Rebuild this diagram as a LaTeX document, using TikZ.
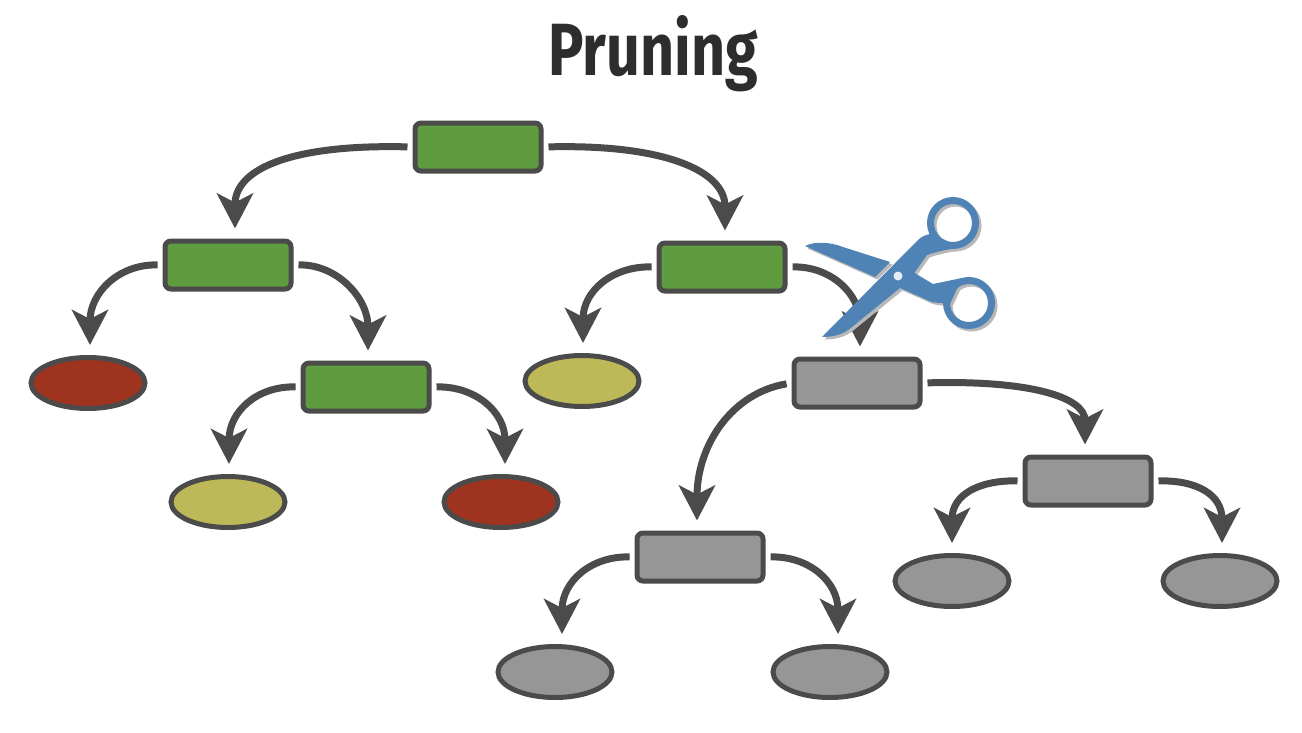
\documentclass[tikz,border=0pt]{standalone}
\usepackage{fontspec}
\setmainfont{Fira Sans}
\usetikzlibrary{shapes.geometric,arrows.meta,calc,shadows}
\definecolor{lineC}{HTML}{4B4B4B}
\definecolor{greenC}{HTML}{5F9B3F}
\definecolor{redC}{HTML}{9E3420}
\definecolor{yellowC}{HTML}{BDB858}
\definecolor{grayC}{HTML}{969696}
\definecolor{blueC}{HTML}{4F83B5}
\definecolor{titleC}{HTML}{2D2D2D}
\tikzset{
  softshadow/.style={drop shadow={shadow xshift=1pt,shadow yshift=-1pt,opacity=.22,fill=black}},
  boxnode/.style={draw=lineC,line width=5pt,rounded corners=6pt,minimum width=126pt,minimum height=48pt,inner sep=0pt,softshadow},
  leaf/.style={ellipse,draw=lineC,line width=5pt,minimum width=114pt,minimum height=51pt,inner sep=0pt,softshadow},
  conn/.style={draw=lineC,line width=7pt,shorten <=5pt,shorten >=10pt,-{Stealth[length=35pt,width=36pt,inset=9pt]}},
}
\newcommand{\scissorshape}[2]{%
  \fill[#1] (805,246) .. controls (815,241) and (830,242) .. (843,247) -- (890,262) -- (875,277) -- cycle;
  \fill[#1] (822,337) -- (918,240) .. controls (922,236) and (926,235) .. (930,234) -- (945,240) -- (957,248)
     .. controls (945,250) and (935,252) .. (927,255) -- (915,272) -- (900,288) -- (852,327) .. controls (843,335) and (832,337) .. (822,337) -- cycle;
  \fill[#1] (913,272) -- (933,284) -- (962,278) -- (950,304) -- (943,303) .. controls (935,303) and (930,302) .. (925,299) -- (900,288) -- cycle;
  \draw[#2,line width=7pt] (953,223) circle[radius=22.5];
  \draw[#2,line width=7pt] (969,303) circle[radius=22.5];
}
\begin{document}
\begin{tikzpicture}[x=1pt,y=-1pt]
\useasboundingbox (0,0) rectangle (1302,732);
\fill[white] (0,0) rectangle (1302,732);

\node[font=\fontsize{74}{74}\selectfont\bfseries,text=titleC,xscale=.8,transform shape,inner sep=0pt,anchor=base] (title) at (653,75) {Pruning};

\node[boxnode,fill=greenC] (root) at (478,147) {};
\node[boxnode,fill=greenC] (l) at (228,265) {};
\node[boxnode,fill=greenC] (r) at (722,267) {};
\node[boxnode,fill=greenC] (lr) at (366,387) {};
\node[boxnode,fill=grayC] (g1) at (857,383) {};
\node[boxnode,fill=grayC] (g2) at (1088,481) {};
\node[boxnode,fill=grayC] (g3) at (700,557) {};

\node[leaf,fill=redC] (e1) at (88,383) {};
\node[leaf,fill=yellowC] (e2) at (582,381) {};
\node[leaf,fill=yellowC] (e3) at (228,502) {};
\node[leaf,fill=redC] (e4) at (501,502) {};
\node[leaf,fill=grayC] (e5) at (952,581) {};
\node[leaf,fill=grayC] (e6) at (1220,581) {};
\node[leaf,fill=grayC] (e7) at (555,672) {};
\node[leaf,fill=grayC] (e8) at (830,672) {};

\draw[conn] (root.west) .. controls +(-120,-3) and +(0,-70) .. ($(l.north)+(7,0)$);
\draw[conn] (root.east) .. controls +(120,-3) and +(0,-70) .. ($(r.north)+(3,0)$);
\draw[conn] (l.west) .. controls +(-44,-1) and +(0,-62) .. ($(e1.north)+(2,0)$);
\draw[conn] (l.east) .. controls +(44,-1) and +(0,-62) .. ($(lr.north)+(2,0)$);
\draw[conn] (r.west) .. controls +(-44,-1) and +(0,-62) .. ($(e2.north)+(1,0)$);
\draw[conn] (r.east) .. controls +(44,-1) and +(0,-62) .. ($(g1.north)+(3,0)$);
\draw[conn] (lr.west) .. controls +(-44,-1) and +(0,-62) .. ($(e3.north)+(1,0)$);
\draw[conn] (lr.east) .. controls +(44,-1) and +(0,-62) .. ($(e4.north)+(4,0)$);
\draw[conn] (g1.west) .. controls +(-60,10) and +(0,-85) .. ($(g3.north)+(-3,0)$);
\draw[conn] (g1.east) .. controls +(105,-3) and +(0,-58) .. ($(g2.north)+(-3,0)$);
\draw[conn] (g2.west) .. controls +(-44,-1) and +(0,-58) .. (e5.north);
\draw[conn] (g2.east) .. controls +(44,-1) and +(0,-58) .. ($(e6.north)+(2,0)$);
\draw[conn] (g3.west) .. controls +(-44,-1) and +(0,-62) .. ($(e7.north)+(7,0)$);
\draw[conn] (g3.east) .. controls +(44,-1) and +(0,-62) .. ($(e8.north)+(8,0)$);

\begin{scope}[shift={(2.5,2.5)}]
\scissorshape{black!28}{black!28}
\end{scope}
\scissorshape{blueC}{blueC}
\fill[white!85!blueC] (898,276) circle[radius=4.5];
\end{tikzpicture}
\end{document}
